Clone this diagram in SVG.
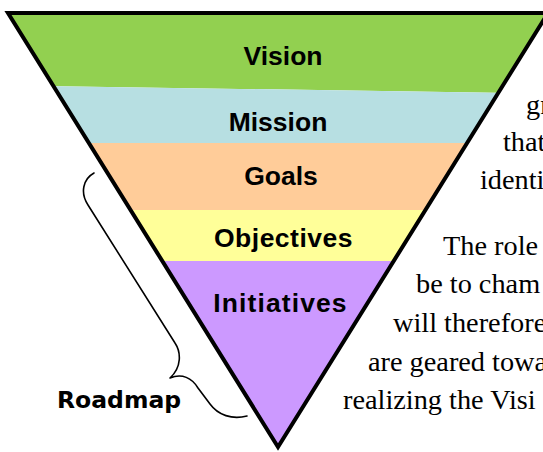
<svg xmlns="http://www.w3.org/2000/svg" width="543" height="452" viewBox="0 0 543 452">
  <style>
    .lbl { font-family: "Liberation Sans", Arial, sans-serif; font-weight: bold; font-size: 26.5px; fill: #000; text-anchor: middle; }
    .rm { font-family: "DejaVu Sans", Verdana, sans-serif; font-weight: bold; font-size: 23.5px; fill: #000; }
    .para { font-family: "Liberation Serif", "Times New Roman", serif; font-size: 28.3px; fill: #000; }
    .brace { fill: none; stroke: #000; stroke-width: 1.6; stroke-linecap: round; stroke-linejoin: round; }
  </style>
  <defs>
    <clipPath id="tri">
      <path d="M8,13 L548,13 L278,447 Z"/>
    </clipPath>
  </defs>
  <rect width="543" height="452" fill="#ffffff"/>
  <g clip-path="url(#tri)">
    <g id="vision">
      <polygon points="0,0 560,0 560,93.7 0,85.3" fill="#92D050"/>
    </g>
    <g id="mission">
      <polygon points="0,85.3 560,93.7 560,143 0,143" fill="#B7DFE2"/>
    </g>
    <g id="goals">
      <rect x="0" y="143" width="560" height="67" fill="#FFCC99"/>
    </g>
    <g id="objectives">
      <rect x="0" y="210" width="560" height="51" fill="#FFFF99"/>
    </g>
    <g id="initiatives">
      <rect x="0" y="261" width="560" height="200" fill="#CC99FF"/>
    </g>
  </g>
  <g id="labels">
    <text class="lbl" x="283" y="65">Vision</text>
    <text class="lbl" x="278" y="131">Mission</text>
    <text class="lbl" x="281" y="185">Goals</text>
    <text class="lbl" x="283.5" y="247" letter-spacing="0.5">Objectives</text>
    <text class="lbl" x="280.5" y="312" letter-spacing="1.1">Initiatives</text>
  </g>
  <g id="outline">
    <path d="M8,13 L548,13 L278,447 Z" fill="none" stroke="#000" stroke-width="4" stroke-linejoin="miter"/>
  </g>
  <g id="connectors">
    <path class="brace" d="M94,173 C83,179 80,193 88,205 L175,343 C181,352 182,367 170,378 C182,373 192,378 198,388 L210,404 C218,415 232,420 247,416"/>
  </g>
  <g id="roadmap">
    <text class="rm" x="57" y="408">Roadmap</text>
  </g>
  <g id="paragraph">
    <text class="para" x="526" y="114">gr</text>
    <text class="para" x="503" y="151">that</text>
    <text class="para" x="480" y="189">identi</text>
    <text class="para" x="443" y="255">The role</text>
    <text class="para" x="416" y="293">be to cham</text>
    <text class="para" x="393" y="332">will therefore</text>
    <text class="para" x="368" y="371">are geared towa</text>
    <text class="para" x="343" y="409">realizing the Visi</text>
  </g>
</svg>
